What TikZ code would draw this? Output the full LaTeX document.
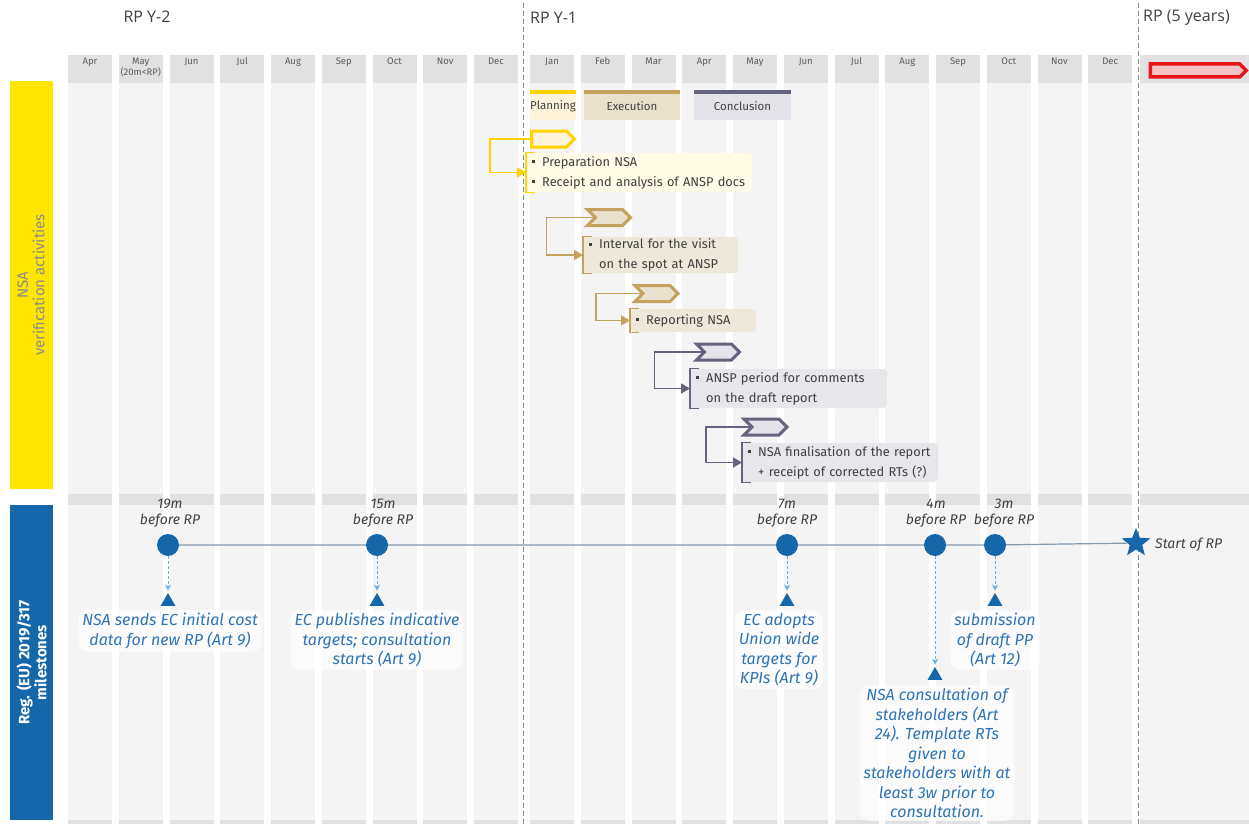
\documentclass[tikz,border=0pt]{standalone}
\usepackage{fontspec}
\setmainfont{Fira Sans}
\newfontfamily\osans{Open Sans}
\usetikzlibrary{shapes.symbols,shapes.geometric,arrows.meta,calc}
\definecolor{colbody}{HTML}{F4F4F4}
\definecolor{colhead}{HTML}{E1E1E1}
\definecolor{eyyellow}{HTML}{FFE600}
\definecolor{ylw}{HTML}{FFD200}
\definecolor{ylwfill}{HTML}{FFF4DA}
\definecolor{ylwbox}{HTML}{FFFBE6}
\definecolor{tanc}{HTML}{C2A25E}
\definecolor{tanfill}{HTML}{EAE1CC}
\definecolor{tanbox}{HTML}{EEE8DA}
\definecolor{slate}{HTML}{64647E}
\definecolor{slatefill}{HTML}{E3E3E9}
\definecolor{slatebox}{HTML}{E6E6EB}
\definecolor{regblue}{HTML}{1666AA}
\definecolor{txtblue}{HTML}{2E74B5}
\definecolor{dashblue}{HTML}{62AEEA}
\definecolor{mline}{HTML}{8299AE}
\definecolor{rpred}{HTML}{E8141B}
\definecolor{rpfill}{HTML}{F6C3C3}
\definecolor{txtgrey}{HTML}{404040}
\definecolor{divline}{HTML}{7A8A9A}
\newcommand\mybul{\makebox[10pt][l]{\rule[3pt]{3pt}{3pt}}}
\newcommand\mygap{\hspace*{10pt}}
\begin{document}
\begin{tikzpicture}[x=1pt,y=-1pt,
  monthlbl/.style={anchor=north, font=\fontsize{9.5}{11}\selectfont, text=txtgrey!85, align=center, inner sep=1.5},
  toplbl/.style={font=\osans\fontsize{16}{18}\selectfont, text=txtgrey, inner sep=0},
  chevron/.style={signal, signal to=east, line width=3, minimum height=16, minimum width=43, inner sep=0},
  notched/.style={chevron, signal from=west},
  tbox/.style={anchor=west, rounded corners=4, inner xsep=6, inner ysep=0, align=left, font=\fontsize{12.8}{20}\selectfont, text=txtgrey},
  legbox/.style={minimum height=28, inner sep=0, font=\fontsize{11.5}{13}\selectfont, text=txtgrey},
  conn/.style={line width=1.5, -{Triangle[length=9,width=10]}},
  mcirc/.style={circle, fill=regblue, minimum size=22, inner sep=0},
  mtri/.style={regular polygon, regular polygon sides=3, fill=regblue, minimum size=17, inner sep=0},
  mtxt/.style={anchor=north, font=\fontsize{16}{19.5}\selectfont\itshape, text=txtblue, align=center, fill=white, fill opacity=0.65, text opacity=1, rounded corners=10, inner xsep=4, inner ysep=3},
  mlbl/.style={font=\fontsize{14}{16}\selectfont\itshape, text=txtgrey, align=center, inner sep=0},
  darrow/.style={dashblue, line width=1, dash pattern=on 3pt off 2pt, -{Stealth[length=6,width=6]}, shorten >=2},
  divider/.style={divline, line width=0.8, dash pattern=on 5pt off 3pt}]
\useasboundingbox (0,0) rectangle (1249,824);
\fill[white] (0,0) rectangle (1249,824);
% columns
\foreach \i in {0,...,8}{
  \fill[colbody] ({68+50.75*\i},55) rectangle ++(44,769);
  \fill[colhead] ({68+50.75*\i},55) rectangle ++(44,28);
  \fill[colhead] ({68+50.75*\i},494) rectangle ++(44,11);
  \fill[colhead] ({68+50.75*\i},820) rectangle ++(44,4);
}
\foreach \i in {0,...,11}{
  \fill[colbody] ({530+50.75*\i},55) rectangle ++(44,769);
  \fill[colhead] ({530+50.75*\i},55) rectangle ++(44,28);
  \fill[colhead] ({530+50.75*\i},494) rectangle ++(44,11);
  \fill[colhead] ({530+50.75*\i},820) rectangle ++(44,4);
}
\fill[colbody] (1140,55) rectangle (1249,824);
\fill[colhead] (1140,55) rectangle (1249,83);
\fill[colhead] (1140,494) rectangle (1249,505);
\fill[colhead] (1140,820) rectangle (1249,824);
% month labels
\foreach \m [count=\i from 0] in {Apr,{May\\(20m<RP)},Jun,Jul,Aug,Sep,Oct,Nov,Dec}
  \node[monthlbl] (ma\i) at ({90+50.75*\i},56) {\m};
\foreach \m [count=\i from 0] in {Jan,Feb,Mar,Apr,May,Jun,Jul,Aug,Sep,Oct,Nov,Dec}
  \node[monthlbl] (mb\i) at ({552+50.75*\i},56) {\m};
% dividers
\coordinate (d1t) at (523,3); \coordinate (d1b) at (523,824);
\coordinate (d2t) at (1138,3); \coordinate (d2b) at (1138,824);
\draw[divider] (d1t) -- (d1b);
\draw[divider] (d2t) -- (d2b);
% top labels
\node[toplbl] (ry2) at (147,17) {RP Y-2};
\node[toplbl, anchor=west] (ry1) at (530,18) {RP Y-1};
\node[toplbl, anchor=west] (rp5) at (1143,18) {RP (5 years)};
\node[signal, signal to=east, draw=rpred, fill=rpfill, line width=3.5, minimum width=96, minimum height=13, inner sep=0] (rparrow) at (1195,70.5) {};
% left bars
\node[rotate=90, fill=eyyellow, minimum width=408, minimum height=43, align=center, text=black!45, font=\fontsize{15}{16.5}\selectfont, inner sep=0] (nsabar) at (31,285) {NSA\\verification activities};
\node[rotate=90, fill=regblue, minimum width=315, minimum height=43, align=center, text=white, font=\bfseries\fontsize{15}{17}\selectfont, inner sep=0] (regbar) at (31.5,662.5) {Reg. (EU) 2019/317\\milestones};
% legend
\node[legbox, fill=ylwfill, minimum width=46] (lgP) at (553,106) {Planning};
\draw[ylw, line width=4] (lgP.north west) -- (lgP.north east);
\node[legbox, fill=tanfill, minimum width=96] (lgE) at (632,106) {Execution};
\draw[tanc, line width=4] (lgE.north west) -- (lgE.north east);
\node[legbox, fill=slatefill, minimum width=97] (lgC) at (742.5,106) {Conclusion};
\draw[slate, line width=4] (lgC.north west) -- (lgC.north east);
% gantt chevrons
\node[chevron, draw=ylw, fill=ylwfill] (c1) at (549,139) {};
\node[notched, draw=tanc, fill=tanfill] (c2) at (609,217.5) {};
\node[notched, draw=tanc, fill=tanfill] (c3) at (656.5,293.5) {};
\node[notched, draw=slate, fill=slatefill] (c4) at (718,352) {};
\node[notched, draw=slate, fill=slatefill] (c5) at (765.5,427) {};
% gantt boxes
\node[tbox, fill=ylwbox, text width=214, minimum height=39] (b1) at (526,172.5) {\mbox{\mybul Preparation NSA}\\\mbox{\mybul Receipt and analysis of ANSP docs}};
\node[tbox, fill=tanbox, text width=143, minimum height=36] (b2) at (583,255) {\mbox{\mybul Interval for the visit}\\\mbox{\mygap on the spot at ANSP}};
\node[tbox, fill=tanbox, text width=114, minimum height=23] (b3) at (630,320.5) {\mbox{\mybul Reporting NSA}};
\node[tbox, fill=slatebox, text width=185, minimum height=39] (b4) at (690,388.5) {\mbox{\mybul ANSP period for comments}\\\mbox{\mygap on the draft report}};
\node[tbox, fill=slatebox, text width=184, minimum height=39] (b5) at (742,462.5) {\mbox{\mybul NSA finalisation of the report}\\\mbox{\mygap + receipt of corrected RTs (?)}};
% brackets
\draw[ylw, line width=1.3] ([xshift=9]b1.north west) -- (b1.north west) -- (b1.south west) -- ([xshift=9]b1.south west);
\draw[tanc, line width=1.3] ([xshift=9]b2.north west) -- (b2.north west) -- (b2.south west) -- ([xshift=9]b2.south west);
\draw[tanc, line width=1.3] ([xshift=9]b3.north west) -- (b3.north west) -- (b3.south west) -- ([xshift=9]b3.south west);
\draw[slate, line width=1.3] ([xshift=9]b4.north west) -- (b4.north west) -- (b4.south west) -- ([xshift=9]b4.south west);
\draw[slate, line width=1.3] ([xshift=9]b5.north west) -- (b5.north west) -- (b5.south west) -- ([xshift=9]b5.south west);
% connectors
\draw[conn, ylw] (c1.west) -- ++(-40,0) |- (b1.west);
\draw[conn, tanc] (c2.west) -- ++(-47,0) |- (b2.west);
\draw[conn, tanc] (c3.west) -- ++(-45,0) |- (b3.west);
\draw[conn, slate] (c4.west) -- ++(-48,0) |- (b4.west);
\draw[conn, slate] (c5.west) -- ++(-44,0) |- (b5.west);
% milestones
\node[mcirc] (m19) at (168,545) {};
\node[mcirc] (m15) at (377,545) {};
\node[mcirc] (m7) at (787,545) {};
\node[mcirc] (m4) at (935,545) {};
\node[mcirc] (m3) at (995,545) {};
\node[star, star points=5, star point ratio=2.3, fill=regblue, minimum size=30, inner sep=0] (srp) at (1136,543) {};
\draw[mline, line width=1.2] (m19) -- (m15) -- (m7) -- (m4) -- (m3) -- (srp);
\node[mlbl] (l19) at (170,513) {19m\\before RP};
\node[mlbl] (l15) at (383,513) {15m\\before RP};
\node[mlbl] (l7) at (787,513) {7m\\before RP};
\node[mlbl] (l4) at (936,513) {4m\\before RP};
\node[mlbl] (l3) at (1004,513) {3m\\before RP};
\node[mlbl, anchor=west] (lsrp) at (1155,545) {Start of RP};
\node[mtri] (t19) at (168,601.5) {};
\node[mtri] (t15) at (377,601.5) {};
\node[mtri] (t7) at (787,601.5) {};
\node[mtri] (t3) at (995,601.5) {};
\node[mtri] (t4) at (935,675.5) {};
\draw[darrow] (m19) -- (t19);
\draw[darrow] (m15) -- (t15);
\draw[darrow] (m7) -- (t7);
\draw[darrow] (m3) -- (t3);
\draw[darrow] (m4) -- (t4);
\node[mtxt] (x19) at (170,610) {NSA sends EC initial cost\\data for new RP (Art 9)};
\node[mtxt] (x15) at (377,610) {EC publishes indicative\\targets; consultation\\starts (Art 9)};
\node[mtxt] (x7) at (779,610) {EC adopts\\Union wide\\targets for\\KPIs (Art 9)};
\node[mtxt] (x3) at (995,610) {submission\\of draft PP\\(Art 12)};
\node[mtxt] (x4) at (937,685) {NSA consultation of\\stakeholders (Art\\24). Template RTs\\given to\\stakeholders with at\\least 3w prior to\\consultation.};
\end{tikzpicture}
\end{document}
